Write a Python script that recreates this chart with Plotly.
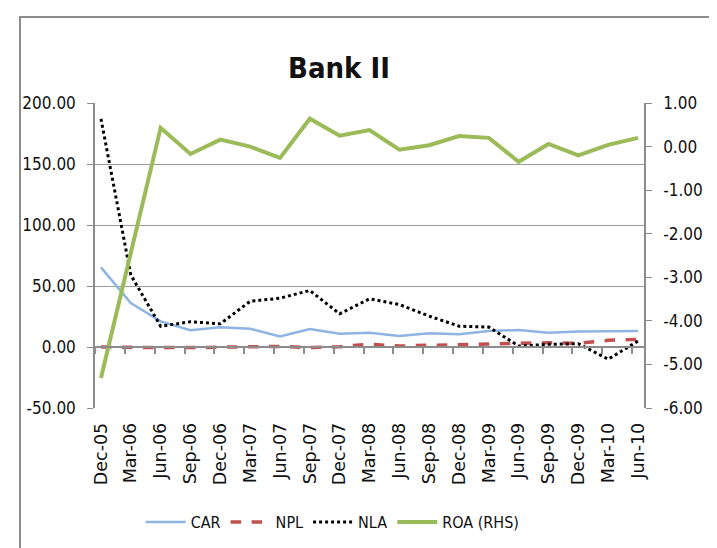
import plotly.graph_objects as go

categories = ["Dec-05", "Mar-06", "Jun-06", "Sep-06", "Dec-06", "Mar-07", "Jun-07",
              "Sep-07", "Dec-07", "Mar-08", "Jun-08", "Sep-08", "Dec-08", "Mar-09",
              "Jun-09", "Sep-09", "Dec-09", "Mar-10", "Jun-10"]
car = [65.3, 36.0, 21.0, 13.7, 16.1, 15.0, 8.7, 14.8, 10.9, 11.7, 9.0, 11.2, 10.4,
       13.1, 13.9, 11.7, 12.8, 13.1, 13.1]
npl = [0.0, -0.5, -0.5, -0.5, -0.3, -0.3, 0.5, -0.5, 0.3, 2.2, 0.8, 1.4, 1.9, 2.7,
       3.5, 3.5, 3.0, 5.5, 6.3]
nla = [187.0, 59.0, 17.0, 20.7, 19.0, 37.5, 40.0, 46.3, 27.2, 39.5, 34.8, 25.3, 17.1,
       16.3, 0.8, 2.2, 2.7, -10.0, 4.9]
roa = [-5.31, -2.45, 0.43, -0.17, 0.16, 0.0, -0.26, 0.64, 0.25, 0.38, -0.07, 0.03,
       0.24, 0.2, -0.35, 0.06, -0.2, 0.04, 0.2]
left_ticks = [-50, 0, 50, 100, 150, 200]
right_ticks = [-6, -5, -4, -3, -2, -1, 0, 1]

idx = list(range(len(categories)))
FONT = "DejaVu Sans Condensed, Liberation Sans Narrow, sans-serif"
AX = "#8c8c8c"

fig = go.Figure()
fig.add_trace(go.Scatter(x=idx, y=car, name="CAR", mode="lines",
                         line=dict(color="#8DB4E2", width=2.5)))
fig.add_trace(go.Scatter(x=idx, y=npl, name="NPL", mode="lines",
                         line=dict(color="#C0504D", width=3.5, dash="dash")))
fig.add_trace(go.Scatter(x=idx, y=nla, name="NLA", mode="lines",
                         line=dict(color="#000000", width=3, dash="dot")))
fig.add_trace(go.Scatter(x=idx, y=roa, name="ROA (RHS)", mode="lines", yaxis="y2",
                         line=dict(color="#9BBB59", width=4)))

fig.update_layout(
    width=717, height=548,
    margin=dict(l=87, r=81, t=95, b=148),
    paper_bgcolor="white", plot_bgcolor="white",
    title=dict(text="<b>Bank II</b>", x=331 / 717, xref="container", xanchor="center",
               y=1 - 60 / 548, yref="container", yanchor="middle",
               font=dict(family=FONT, size=29, color="#111")),
    xaxis=dict(range=[-0.2, 18.2], anchor="free", position=0.2,
               showline=True, linecolor=AX, linewidth=1.5, showgrid=False, zeroline=False,
               tickvals=idx, ticktext=categories, tickangle=-90, ticks="",
               ticklabelstandoff=68,
               tickfont=dict(family="DejaVu Sans", size=17.5, color="#111"),
               minor=dict(tickvals=[i - 0.2 for i in idx], ticks="outside", ticklen=6,
                          tickcolor=AX, tickwidth=1.5, showgrid=False)),
    yaxis=dict(range=[-50, 200], tickvals=left_ticks,
               ticktext=[f"{v:.2f}" for v in left_ticks],
               showline=True, linecolor=AX, linewidth=1.5, ticks="outside", ticklen=6,
               tickcolor=AX, showgrid=True, gridcolor="#9a9a9a", gridwidth=1.2,
               zeroline=False, ticklabelstandoff=8,
               tickfont=dict(family=FONT, size=17, color="#111")),
    yaxis2=dict(range=[-6, 1], overlaying="y", side="right", tickvals=right_ticks,
                ticktext=[f"{v:.2f}" for v in right_ticks],
                showline=True, linecolor=AX, linewidth=1.5, ticks="outside", ticklen=6,
                tickcolor=AX, showgrid=False, zeroline=False, ticklabelstandoff=8,
                tickfont=dict(family=FONT, size=17, color="#111")),
    legend=dict(orientation="h", x=0.433, xanchor="center", y=-0.374, yanchor="middle",
                font=dict(family=FONT, size=16, color="#111"), bgcolor="rgba(0,0,0,0)",
                itemwidth=40, tracegroupgap=0),
    showlegend=True,
)

fig.add_shape(type="rect", xref="paper", yref="paper",
              x0=(12 - 87) / 549, x1=(710 - 87) / 549,
              y0=-0.7, y1=(400 - 9) / 305,
              line=dict(color="#8c8c8c", width=2), fillcolor="rgba(0,0,0,0)", layer="below")

fig.write_html("out.html")
